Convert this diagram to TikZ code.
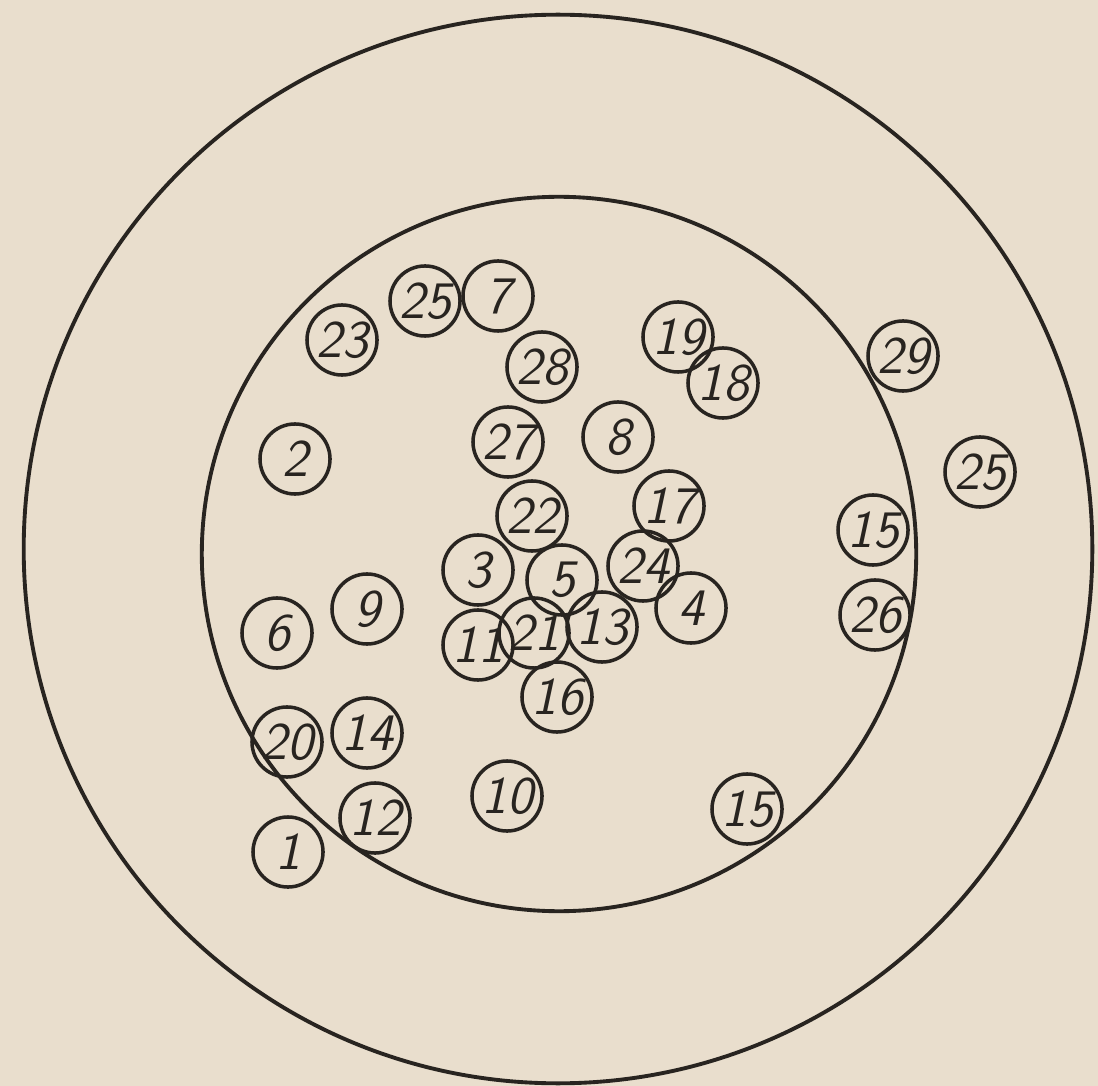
\documentclass[tikz,border=0pt]{standalone}
\usepackage{xcolor}

\definecolor{paper}{RGB}{233,222,205}
\definecolor{ink}{RGB}{40,36,32}

\tikzset{
  ring/.style={draw=ink,line width=1.1pt},
  hit/.style={circle,draw=ink,line width=1pt,minimum size=0.7cm,inner sep=0pt,
    text=ink,font=\fontsize{15}{15}\selectfont\sffamily\slshape}
}

\begin{document}
\begin{tikzpicture}[x=0.01cm,y=-0.01cm]
\useasboundingbox (0,0) rectangle (1098,1086);
\fill[paper] (0,0) rectangle (1098,1086);
% target rings
\coordinate (C) at (558,549);
\draw[ring] (C) circle[radius=5.34cm];
\draw[ring] (559,554) circle[radius=3.57cm];
% shots, top
\node[hit] (h23) at (342,340) {23};
\node[hit] (h25a) at (425,301) {25};
\node[hit] (h7) at (498,296) {7};
\node[hit] (h28) at (542,367) {28};
\node[hit] (h19) at (678,337) {19};
\node[hit] (h18) at (723,383) {18};
\node[hit] (h29) at (903,356) {29};
\node[hit] (h2) at (295,459) {2};
\node[hit] (h27) at (508,442) {27};
\node[hit] (h8) at (618,437) {8};
\node[hit] (h25b) at (980,472) {25};
% shots, middle
\node[hit] (h22) at (532,516) {22};
\node[hit] (h17) at (669,506) {17};
\node[hit] (h15a) at (873,530) {15};
\node[hit] (h3) at (478,570) {3};
\node[hit] (h5) at (562,580) {5};
\node[hit] (h24) at (643,566) {24};
\node[hit] (h4) at (691,608) {4};
\node[hit] (h9) at (367,609) {9};
\node[hit] (h6) at (277,633) {6};
\node[hit] (h11) at (478,645) {11};
\node[hit] (h21) at (534,633) {21};
\node[hit] (h13) at (602,627) {13};
\node[hit] (h26) at (875,615) {26};
\node[hit] (h16) at (557,697) {16};
% shots, bottom
\node[hit] (h20) at (287,742) {20};
\node[hit] (h14) at (367,733) {14};
\node[hit] (h10) at (507,796) {10};
\node[hit] (h12) at (375,818) {12};
\node[hit] (h1) at (288,852) {1};
\node[hit] (h15b) at (747,809) {15};
\end{tikzpicture}
\end{document}
